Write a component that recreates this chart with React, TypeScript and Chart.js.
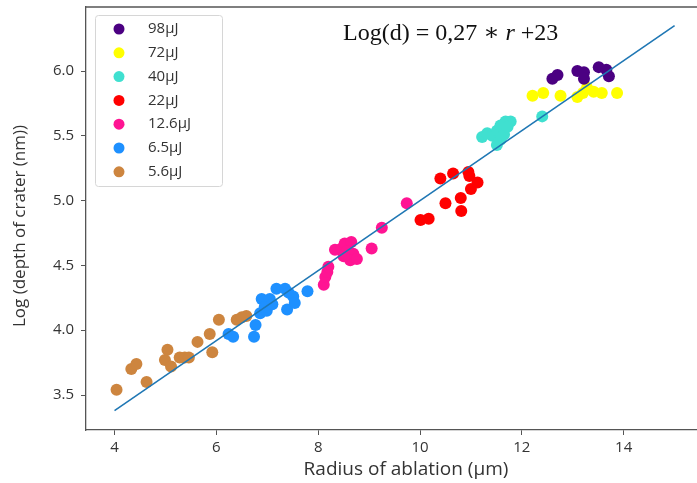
import React, { useEffect, useRef } from "react";
import { Chart, registerables } from "chart.js";

Chart.register(...registerables);

// ---- data ----
const seriesLabels = ["98µJ", "72µJ", "40µJ", "22µJ", "12.6µJ", "6.5µJ", "5.6µJ"];
const seriesColors = ["#4b0082", "#ffff00", "#40e0d0", "#ff0000", "#ff1493", "#1e90ff", "#cd853f"];

const x98 = [12.6, 12.7, 13.09, 13.22, 13.22, 13.51, 13.66, 13.71];
const y98 = [5.94, 5.97, 6.0, 5.99, 5.94, 6.03, 6.01, 5.96];

const x72 = [12.21, 12.42, 12.76, 13.09, 13.2, 13.28, 13.41, 13.57, 13.87];
const y72 = [5.81, 5.83, 5.81, 5.8, 5.83, 5.87, 5.84, 5.83, 5.83];

const x40 = [11.22, 11.32, 11.42, 11.51, 11.51, 11.58, 11.58, 11.65, 11.68, 11.78, 11.72, 12.4];
const y40 = [5.49, 5.52, 5.5, 5.43, 5.54, 5.47, 5.58, 5.51, 5.61, 5.61, 5.57, 5.65];

const x22 = [10.01, 10.17, 10.4, 10.5, 10.65, 10.8, 10.81, 10.95, 10.97, 11.0, 11.13];
const y22 = [4.85, 4.86, 5.17, 4.98, 5.21, 5.02, 4.92, 5.22, 5.19, 5.09, 5.14];

const x126 = [8.11, 8.14, 8.18, 8.2, 8.33, 8.46, 8.52, 8.65, 8.56, 8.69, 8.63, 8.76, 8.5, 9.05, 9.25, 9.74];
const y126 = [4.35, 4.41, 4.45, 4.49, 4.62, 4.63, 4.67, 4.68, 4.61, 4.59, 4.54, 4.55, 4.57, 4.63, 4.79, 4.98];

const x65 = [6.24, 6.33, 6.74, 6.77, 6.86, 6.89, 6.99, 7.05, 7.18, 7.35, 7.42, 7.39, 7.51, 7.54, 7.79, 6.95, 7.1];
const y65 = [3.97, 3.95, 3.95, 4.04, 4.13, 4.24, 4.15, 4.24, 4.32, 4.32, 4.29, 4.16, 4.26, 4.21, 4.3, 4.18, 4.2];

const x56 = [4.04, 4.33, 4.43, 4.63, 4.99, 5.04, 5.11, 5.28, 5.38, 5.46, 5.63, 5.87, 5.92, 6.05, 6.4, 6.5, 6.59];
const y56 = [3.54, 3.7, 3.74, 3.6, 3.77, 3.85, 3.72, 3.79, 3.79, 3.79, 3.91, 3.97, 3.83, 4.08, 4.08, 4.1, 4.11];

const seriesX = [x98, x72, x40, x22, x126, x65, x56];
const seriesY = [y98, y72, y40, y22, y126, y65, y56];

const fitX = [4, 15];
const fitY = [3.38, 6.35];

const xTicks = [4, 6, 8, 10, 12, 14];
const yTicks = [3.5, 4.0, 4.5, 5.0, 5.5, 6.0];
const xRange = [3.44, 15.44];
const yRange = [3.23, 6.494];

const xTitle = "Radius of ablation (µm)";
const yTitle = "Log (depth of crater (nm))";
const eqParts = ["Log(d) = 0,27 ∗ ", "r", " +23"];

const TICK_FONT = "'Open Sans', 'DejaVu Sans', sans-serif";
const TEXT_COLOR = "#333333";
const FRAME_COLOR = "#555555";
const EQ_FONT = "'Liberation Serif', 'DejaVu Serif', serif";

const decorPlugin = {
  id: "decor",
  afterDatasetsDraw(chart: any) {
    const { ctx, chartArea } = chart;
    const { left, top, right, bottom } = chartArea;
    ctx.save();
    // top spine
    ctx.strokeStyle = FRAME_COLOR;
    ctx.lineWidth = 1.3;
    ctx.beginPath();
    ctx.moveTo(left, top);
    ctx.lineTo(right, top);
    ctx.stroke();

    // legend
    const bx = left + 9;
    const by = top + 8;
    const bw = 127;
    const bh = 171;
    ctx.fillStyle = "rgba(255,255,255,0.85)";
    ctx.strokeStyle = "#d6d6d6";
    ctx.lineWidth = 1;
    ctx.beginPath();
    (ctx as any).roundRect(bx + 0.5, by + 0.5, bw, bh, 3);
    ctx.fill();
    ctx.stroke();
    ctx.font = `15px ${TICK_FONT}`;
    ctx.textBaseline = "middle";
    ctx.textAlign = "left";
    seriesLabels.forEach((lab, i) => {
      const cy = top + 22 + i * 23.8;
      ctx.fillStyle = seriesColors[i];
      ctx.beginPath();
      ctx.arc(left + 33, cy, 5.5, 0, Math.PI * 2);
      ctx.fill();
      ctx.fillStyle = TEXT_COLOR;
      ctx.fillText(lab, left + 62, cy);
    });

    // equation
    ctx.fillStyle = "#111111";
    ctx.textBaseline = "alphabetic";
    const ex = left + 257;
    const ey = top + 33;
    ctx.font = `24px ${EQ_FONT}`;
    ctx.fillText(eqParts[0], ex, ey);
    let w = ctx.measureText(eqParts[0]).width;
    ctx.font = `italic 24px ${EQ_FONT}`;
    ctx.fillText(eqParts[1], ex + w, ey);
    w += ctx.measureText(eqParts[1]).width;
    ctx.font = `24px ${EQ_FONT}`;
    ctx.fillText(eqParts[2], ex + w, ey);

    // axis titles
    ctx.fillStyle = TEXT_COLOR;
    ctx.textAlign = "center";
    ctx.textBaseline = "middle";
    ctx.font = `19px ${TICK_FONT}`;
    ctx.fillText(xTitle, left + 320, bottom + 40);
    ctx.font = `17px ${TICK_FONT}`;
    ctx.translate(20, top + 219);
    ctx.rotate(-Math.PI / 2);
    ctx.fillText(yTitle, 0, 0);
    ctx.restore();
  },
};

export default function App() {
  const ref = useRef<HTMLCanvasElement | null>(null);

  useEffect(() => {
    if (!ref.current) return;
    const scatterSets = seriesLabels.map((label, i) => ({
      type: "scatter" as const,
      label,
      data: seriesX[i].map((x, j) => ({ x, y: seriesY[i][j] })),
      backgroundColor: seriesColors[i],
      borderWidth: 0,
      pointRadius: 6,
      pointHoverRadius: 6,
      order: 1,
    }));
    const fitSet = {
      type: "line" as const,
      label: "fit",
      data: fitX.map((x, j) => ({ x, y: fitY[j] })),
      borderColor: "#1f77b4",
      borderWidth: 1.6,
      pointRadius: 0,
      fill: false,
      order: 0,
    };

    const chart = new Chart(ref.current, {
      type: "scatter",
      data: { datasets: [fitSet as any, ...scatterSets] },
      options: {
        animation: false,
        responsive: false,
        maintainAspectRatio: false,
        layout: { autoPadding: false, padding: { top: 7, right: 0, bottom: 0, left: 0 } },
        plugins: { legend: { display: false }, tooltip: { enabled: false }, title: { display: false } },
        scales: {
          x: {
            type: "linear",
            min: xRange[0],
            max: xRange[1],
            afterBuildTicks: (s: any) => {
              s.ticks = xTicks.map((v) => ({ value: v }));
            },
            afterFit: (s: any) => {
              s.height = 53;
              s.paddingLeft = 0;
              s.paddingRight = 0;
            },
            grid: { drawOnChartArea: false, drawTicks: true, tickLength: 5, color: FRAME_COLOR, lineWidth: 1 },
            border: { display: true, color: FRAME_COLOR, width: 1.3 },
            ticks: {
              padding: 4,
              color: TEXT_COLOR,
              font: { size: 15, family: TICK_FONT },
              callback: (v: any) => String(v),
              maxRotation: 0,
            },
          },
          y: {
            type: "linear",
            min: yRange[0],
            max: yRange[1],
            afterBuildTicks: (s: any) => {
              s.ticks = yTicks.map((v) => ({ value: v }));
            },
            afterFit: (s: any) => {
              s.width = 86;
              s.paddingTop = 0;
              s.paddingBottom = 0;
            },
            grid: { drawOnChartArea: false, drawTicks: true, tickLength: 5, color: FRAME_COLOR, lineWidth: 1 },
            border: { display: true, color: FRAME_COLOR, width: 1.3 },
            ticks: {
              padding: 7,
              color: TEXT_COLOR,
              font: { size: 15, family: TICK_FONT },
              callback: (v: any) => Number(v).toFixed(1),
            },
          },
        },
      },
      plugins: [decorPlugin],
    });
    return () => chart.destroy();
  }, []);

  return (
    <div style={{ position: "fixed", left: 0, top: 0, width: 697, height: 483, background: "#ffffff" }}>
      <canvas ref={ref} width={697} height={483} style={{ display: "block", width: 697, height: 483 }} />
    </div>
  );
}
